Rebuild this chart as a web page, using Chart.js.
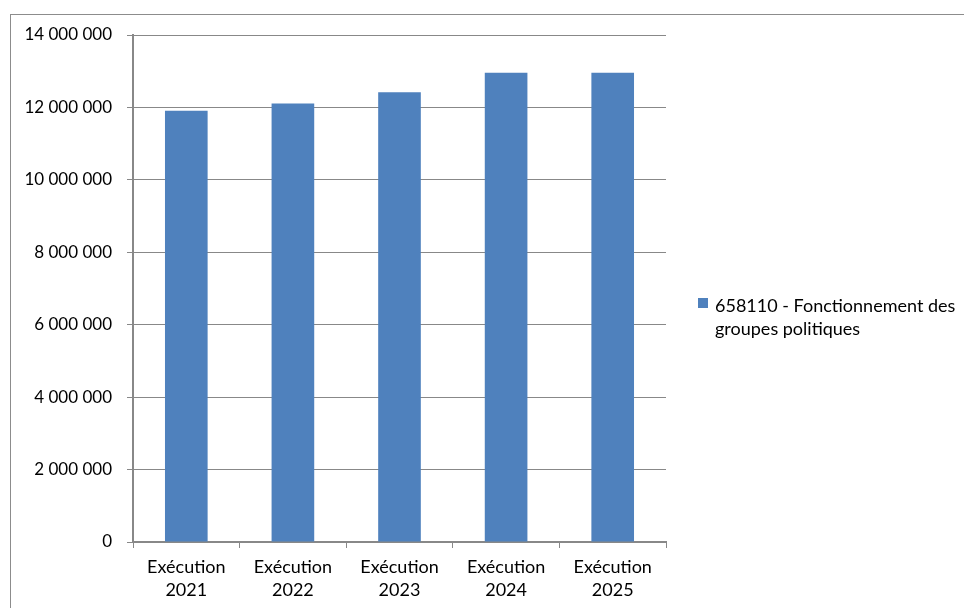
<!DOCTYPE html>
<html>
<head>
<meta charset="utf-8">
<script src="https://cdn.jsdelivr.net/npm/chart.js@4"></script>
<style>
  html, body { margin: 0; padding: 0; background: #fff; width: 964px; height: 608px; overflow: hidden; }
  #frame { position: absolute; left: 10px; top: 14px; width: 960px; height: 600px; border-top: 1px solid #8c8c8c; border-left: 1px solid #8c8c8c; }
  #wrap { position: absolute; left: 0; top: 0; width: 964px; height: 608px; }
  #legend { position: absolute; left: 698px; top: 294px; font-family: Lato, sans-serif; font-size: 18px; line-height: 23px; color: #000; }
  #legend .box { position: absolute; left: 0; top: 4px; width: 10px; height: 10px; background: #4F81BD; }
  #legend .txt { position: absolute; left: 17px; top: 0; white-space: nowrap; }
</style>
</head>
<body>
<div id="frame"></div>
<div id="wrap"><canvas id="c" width="964" height="608"></canvas></div>
<div id="legend"><div class="box"></div><div class="txt">658110 - Fonctionnement des<br>groupes politiques</div></div>
<script>
const categories = [["Exécution", "2021"], ["Exécution", "2022"], ["Exécution", "2023"], ["Exécution", "2024"], ["Exécution", "2025"]];
const seriesName = "658110 - Fonctionnement des groupes politiques";
const seriesValues = [11910000, 12110000, 12420000, 12960000, 12960000];
const yTicks = [0, 2000000, 4000000, 6000000, 8000000, 10000000, 12000000, 14000000];

const fmt = v => String(v).replace(/\B(?=(\d{3})+(?!\d))/g, ' ');
const gridColor = '#888888';
const yFont = { family: 'Lato, sans-serif', size: 17 };
const xFont = { family: 'Lato, sans-serif', size: 18, lineHeight: 1.28 };

new Chart(document.getElementById('c'), {
  type: 'bar',
  data: {
    labels: categories,
    datasets: [{
      label: seriesName,
      data: seriesValues,
      backgroundColor: '#4F81BD',
      borderWidth: 0,
      barPercentage: 0.4,
      categoryPercentage: 1.0
    }]
  },
  options: {
    responsive: false,
    animation: false,
    devicePixelRatio: 1,
    layout: { padding: { left: 0, top: 35, right: 298, bottom: 0 } },
    plugins: { legend: { display: false }, tooltip: { enabled: false } },
    scales: {
      x: {
        grid: { display: true, drawOnChartArea: false, drawTicks: true, tickLength: 6, tickColor: gridColor, offset: true },
        border: { display: true, color: gridColor, width: 2 },
        ticks: { color: '#000', font: xFont, padding: 8, maxRotation: 0, autoSkip: false },
        afterFit: s => { s.height = 66; }
      },
      y: {
        min: 0, max: 14000000,
        afterBuildTicks: s => { s.ticks = yTicks.map(v => ({ value: v })); },
        grid: { color: gridColor, lineWidth: 1, drawTicks: true, tickLength: 6, tickColor: gridColor },
        border: { display: true, color: gridColor, width: 2 },
        ticks: { color: '#000', font: yFont, padding: 15, callback: v => fmt(v) },
        afterFit: s => { s.width = 133; }
      }
    }
  }
});
</script>
</body>
</html>
